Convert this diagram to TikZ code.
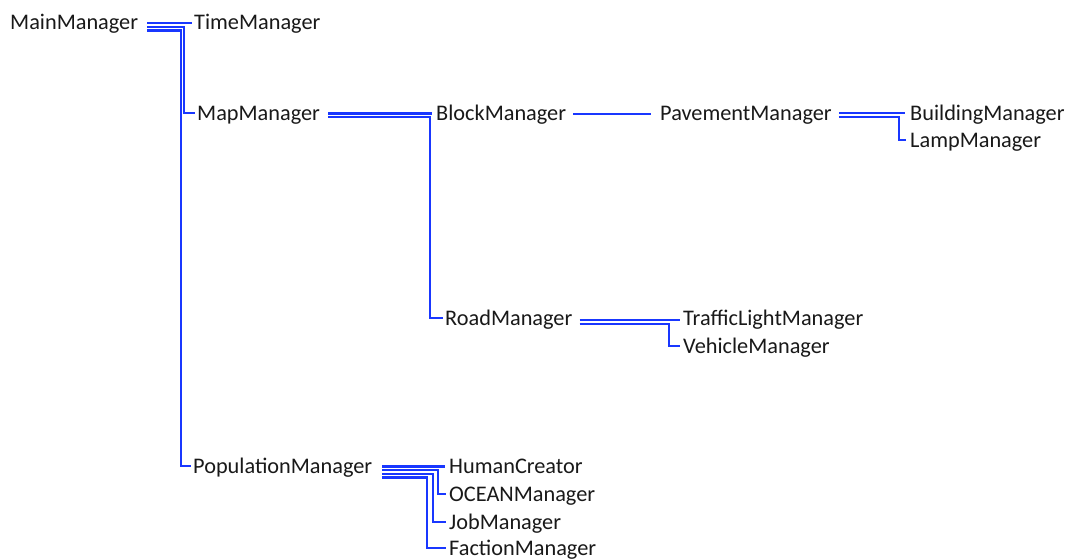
\documentclass[tikz,border=0pt]{standalone}
\usepackage{fontspec}
\setmainfont{Carlito}
\definecolor{lineblue}{RGB}{25,55,255}
\definecolor{txt}{RGB}{25,25,25}
\begin{document}
\begin{tikzpicture}[x=1pt,y=-1pt,
  lbl/.style={anchor=west,inner sep=0pt,text height=14pt,text depth=0pt,font=\fontsize{22.3}{24}\selectfont,text=txt},
  conn/.style={draw=lineblue,line width=2.4pt}]
\useasboundingbox[fill=white] (0,0) rectangle (1069,558);
\node[lbl] (main) at (10,22) {MainManager};
\node[lbl] (time) at (194,22) {TimeManager};
\node[lbl] (map) at (197,113) {MapManager};
\node[lbl] (block) at (436,113) {BlockManager};
\node[lbl] (pave) at (660,113) {PavementManager};
\node[lbl] (build) at (910,113) {BuildingManager};
\node[lbl] (lamp) at (910,140) {LampManager};
\node[lbl] (road) at (445,318) {RoadManager};
\node[lbl] (traffic) at (683,318) {TrafficLightManager};
\node[lbl] (vehicle) at (683,346) {VehicleManager};
\node[lbl] (pop) at (193,466) {PopulationManager};
\node[lbl] (human) at (449,466) {HumanCreator};
\node[lbl] (ocean) at (449,494) {OCEANManager};
\node[lbl] (job) at (449,522) {JobManager};
\node[lbl] (faction) at (449,548) {FactionManager};

% MainManager children
\draw[conn] ([xshift=9pt,yshift=-1pt]main.east) -- ([xshift=-2pt,yshift=-1pt]time.west);
\draw[conn] ([xshift=9pt,yshift=-4.7pt]main.east) -| ([xshift=-13pt]map.west) -- ([xshift=-2pt]map.west);
\draw[conn] ([xshift=9pt,yshift=-8.4pt]main.east) -| ([xshift=-12pt]pop.west) -- ([xshift=-2pt]pop.west);
% MapManager children
\draw[conn] ([xshift=8pt,yshift=-0.5pt]map.east) -- ([xshift=-4pt,yshift=-0.5pt]block.west);
\draw[conn] ([xshift=8pt,yshift=-4.2pt]map.east) -| ([xshift=-15pt]road.west) -- ([xshift=-2pt]road.west);
% BlockManager
\draw[conn] ([xshift=7pt,yshift=-1pt]block.east) -- ([xshift=-9pt,yshift=-1pt]pave.west);
% PavementManager children
\draw[conn] ([xshift=7pt,yshift=0pt]pave.east) -- ([xshift=-5pt]build.west);
\draw[conn] ([xshift=7pt,yshift=-3.7pt]pave.east) -| ([xshift=-11pt]lamp.west) -- ([xshift=-4pt]lamp.west);
% RoadManager children
\draw[conn] ([xshift=7pt,yshift=-2pt]road.east) -- ([xshift=-3pt,yshift=-2pt]traffic.west);
\draw[conn] ([xshift=7pt,yshift=-5.7pt]road.east) -| ([xshift=-14pt]vehicle.west) -- ([xshift=-3pt]vehicle.west);
% PopulationManager children
\draw[conn] ([xshift=10pt,yshift=-0.5pt]pop.east) -- ([xshift=-4pt,yshift=-0.5pt]human.west);
\draw[conn] ([xshift=10pt,yshift=-4.1pt]pop.east) -| ([xshift=-11pt]ocean.west) -- ([xshift=-3pt]ocean.west);
\draw[conn] ([xshift=10pt,yshift=-7.7pt]pop.east) -| ([xshift=-16pt]job.west) -- ([xshift=-3pt]job.west);
\draw[conn] ([xshift=10pt,yshift=-11.3pt]pop.east) -| ([xshift=-22pt]faction.west) -- ([xshift=-3pt]faction.west);
\end{tikzpicture}
\end{document}
